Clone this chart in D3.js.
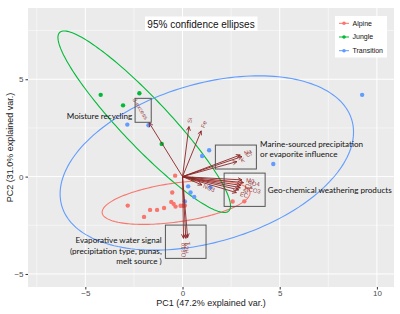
<!DOCTYPE html>
<html>
<head>
<meta charset="utf-8">
<script src="https://cdn.jsdelivr.net/npm/d3@7"></script>
<style>
  body { margin: 0; background: #fff; }
  text { font-family: "Liberation Sans", Arial, sans-serif; }
</style>
</head>
<body>
<div id="chart"></div>
<script>
// Data
const groups = ["Alpine", "Jungle", "Transition"];
const groupColors = ["#F8766D", "#00BA38", "#619CFF"];

const alpinePC1 = [-0.38, -0.53, -0.58, -0.46, -0.36, -0.1, 0.03, 0.12, -0.95, -1.31, -1.67, -1.98, -2.82, 2.58, 3.18];
const alpinePC2 = [0.05, -0.82, -1.3, -1.4, -1.54, -1.5, -1.5, -1.49, -1.61, -1.71, -1.71, -2.07, -1.49, -1.28, -1.27];
const junglePC1 = [-4.21, -2.22, -3.06, -1.07, 0.52];
const junglePC2 = [4.2, 4.28, 3.66, 1.68, -0.12];
const transitionPC1 = [-2.84, -1.75, 1.37, 1.01, 4.67, 9.24, 0.29, 1.44, 0.41, 0.6, 0.12];
const transitionPC2 = [2.67, 2.64, 1.35, 1.06, 0.65, 4.2, -0.5, -0.55, -0.82, -1.04, -1.28];

// 95% ellipses: centre, semi-axes, rotation (deg)
const ellipseCenter = [[-0.33, -1.33], [-1.97, 2.82], [1.25, 0.7]];
const ellipseAxes = [[3.84, 1.0], [6.32, 1.22], [7.78, 4.06]];
const ellipseAngle = [8, -46.5, 16.5];

// loadings
const varNames = ["d-excess", "Si", "Fe", "Na", "Cl", "K", "Mg", "SO4", "Ca", "HCO3", "Sr", "EC", "NO3", "δ18O", "δ2H", "T"];
const varPC1 = [-1.72, 0.33, 0.96, 2.97, 3.06, 2.8, 3.06, 3.14, 3.0, 2.97, 2.89, 2.77, 1.0, 0.05, 0.17, 0.26];
const varPC2 = [2.77, 2.57, 2.35, 1.11, 1.03, 0.77, -0.17, -0.31, -0.45, -0.57, -0.68, -0.82, -0.43, -3.17, -3.17, -3.13];

const xMajor = [-5, 0, 5, 10];
const xMinor = [-7.5, -2.5, 2.5, 7.5];
const yMajor = [-5, 0, 5];
const yMinor = [-2.5, 2.5, 7.5];

// annotation boxes [x0, x1, y0, y1] in PC units
const boxes = [[-2.44, -1.61, 2.79, 4.02], [1.69, 3.8, 0.39, 1.62], [2.14, 4.25, -1.53, 0.18], [-0.88, 1.21, -4.2, -2.49]];
const notes = [
  { lines: ["Moisture recycling"], x: -2.59, y: 3.13, anchor: "end" },
  { lines: ["Marine-sourced precipitation", "or evaporite influence"], x: 3.99, y: 1.67, anchor: "start" },
  { lines: ["Geo-chemical weathering products"], x: 4.39, y: -0.69, anchor: "start" },
  { lines: ["Evaporative water signal", "(precipitation type, punas,", "melt source )"], x: -1.07, y: -3.29, anchor: "end" }
];

const width = 400, height = 314;
const margin = { top: 8, right: 6, bottom: 27, left: 28 };

const svg = d3.select("#chart").append("svg")
  .attr("width", width)
  .attr("height", height);

const x = d3.scaleLinear().domain([-7.95, 10.88]).range([margin.left, width - margin.right]);
const y = d3.scaleLinear().domain([-5.67, 8.66]).range([height - margin.bottom, margin.top]);

// panel
svg.append("rect")
  .attr("x", x.range()[0]).attr("y", y.range()[1])
  .attr("width", x.range()[1] - x.range()[0])
  .attr("height", y.range()[0] - y.range()[1])
  .attr("fill", "#EBEBEB");

svg.append("clipPath").attr("id", "clip").append("rect")
  .attr("x", x.range()[0]).attr("y", y.range()[1])
  .attr("width", x.range()[1] - x.range()[0])
  .attr("height", y.range()[0] - y.range()[1]);

// grid
svg.selectAll(".gx-minor").data(xMinor).enter().append("line")
  .attr("x1", d => x(d)).attr("x2", d => x(d))
  .attr("y1", y.range()[0]).attr("y2", y.range()[1])
  .attr("stroke", "#fff").attr("stroke-width", 0.5);
svg.selectAll(".gy-minor").data(yMinor).enter().append("line")
  .attr("y1", d => y(d)).attr("y2", d => y(d))
  .attr("x1", x.range()[0]).attr("x2", x.range()[1])
  .attr("stroke", "#fff").attr("stroke-width", 0.5);
svg.selectAll(".gx").data(xMajor).enter().append("line")
  .attr("x1", d => x(d)).attr("x2", d => x(d))
  .attr("y1", y.range()[0]).attr("y2", y.range()[1])
  .attr("stroke", "#fff").attr("stroke-width", 1);
svg.selectAll(".gy").data(yMajor).enter().append("line")
  .attr("y1", d => y(d)).attr("y2", d => y(d))
  .attr("x1", x.range()[0]).attr("x2", x.range()[1])
  .attr("stroke", "#fff").attr("stroke-width", 1);

// axes
const xAxis = svg.append("g")
  .attr("transform", `translate(0,${y.range()[0]})`)
  .call(d3.axisBottom(x).tickValues(xMajor).tickSize(2.5).tickPadding(1).tickFormat(d3.format("d")));
const yAxis = svg.append("g")
  .attr("transform", `translate(${x.range()[0]},0)`)
  .call(d3.axisLeft(y).tickValues(yMajor).tickSize(2.5).tickPadding(2).tickFormat(d3.format("d")));
[xAxis, yAxis].forEach(a => {
  a.select(".domain").remove();
  a.selectAll(".tick line").attr("stroke", "#333");
  a.selectAll(".tick text").attr("fill", "#4D4D4D").style("font-size", "8px");
});

svg.append("text")
  .attr("x", (x.range()[0] + x.range()[1]) / 2).attr("y", 305.5)
  .attr("text-anchor", "middle").style("font-size", "9px").attr("fill", "#222")
  .text("PC1 (47.2% explained var.)");
svg.append("text")
  .attr("transform", `translate(12.5,${(y.range()[0] + y.range()[1]) / 2}) rotate(-90)`)
  .attr("text-anchor", "middle").style("font-size", "9px").attr("fill", "#222")
  .text("PC2 (31.0% explained var.)");

const plot = svg.append("g").attr("clip-path", "url(#clip)");

// ellipses
groups.forEach((g, i) => {
  const [cx, cy] = ellipseCenter[i];
  const [a, b] = ellipseAxes[i];
  const th = ellipseAngle[i] * Math.PI / 180;
  const pts = d3.range(0, 360, 2).map(t => {
    const r = t * Math.PI / 180;
    const ex = a * Math.cos(r), ey = b * Math.sin(r);
    return [cx + ex * Math.cos(th) - ey * Math.sin(th), cy + ex * Math.sin(th) + ey * Math.cos(th)];
  });
  plot.append("path")
    .attr("d", d3.line().x(d => x(d[0])).y(d => y(d[1])).curve(d3.curveLinearClosed)(pts))
    .attr("fill", "none").attr("stroke", groupColors[i]).attr("stroke-width", 1.1);
});

// points
const series = [[alpinePC1, alpinePC2], [junglePC1, junglePC2], [transitionPC1, transitionPC2]];
series.forEach(([xs, ys], i) => {
  plot.selectAll(".pt" + i).data(xs).enter().append("circle")
    .attr("cx", d => x(d)).attr("cy", (d, j) => y(ys[j]))
    .attr("r", 2.2).attr("fill", groupColors[i]);
});

// loading arrows
const arrowCol = "#8B2525";
varNames.forEach((name, i) => {
  const ex = x(varPC1[i]), ey = y(varPC2[i]);
  const ox = x(0), oy = y(0);
  const ang = Math.atan2(ey - oy, ex - ox);
  plot.append("line")
    .attr("x1", ox).attr("y1", oy).attr("x2", ex).attr("y2", ey)
    .attr("stroke", arrowCol).attr("stroke-width", 0.9);
  const h = 4.5, spread = 0.45;
  [ang + Math.PI - spread, ang + Math.PI + spread].forEach(a2 => {
    plot.append("line")
      .attr("x1", ex).attr("y1", ey)
      .attr("x2", ex + h * Math.cos(a2)).attr("y2", ey + h * Math.sin(a2))
      .attr("stroke", arrowCol).attr("stroke-width", 0.9);
  });
  const lx = x(varPC1[i] * 1.07), ly = y(varPC2[i] * 1.07);
  const rot = -Math.atan(varPC2[i] / varPC1[i]) * 180 / Math.PI;
  plot.append("text")
    .attr("transform", `translate(${lx},${ly}) rotate(${rot})`)
    .attr("text-anchor", varPC1[i] >= 0 ? "start" : "end")
    .attr("dy", "0.35em")
    .attr("fill", arrowCol).attr("fill-opacity", 0.85)
    .style("font-size", "6px")
    .text(name);
});

// annotation boxes
svg.selectAll(".box").data(boxes).enter().append("rect")
  .attr("x", d => x(d[0])).attr("y", d => y(d[3]))
  .attr("width", d => x(d[1]) - x(d[0])).attr("height", d => y(d[2]) - y(d[3]))
  .attr("fill", "none").attr("stroke", "#555").attr("stroke-width", 1);

notes.forEach(n => {
  n.lines.forEach((l, k) => {
    svg.append("text")
      .attr("x", x(n.x)).attr("y", y(n.y) + k * 10.4)
      .attr("dy", "0.35em")
      .attr("text-anchor", n.anchor)
      .style("font-family", "Lato, sans-serif").style("font-size", "8.1px")
      .attr("fill", "#111")
      .text(l);
  });
});

// title
svg.append("rect").attr("x", 145).attr("y", 16.5).attr("width", 112.5).attr("height", 14.5).attr("fill", "#fff");
svg.append("text").attr("x", 201).attr("y", 24).attr("dy", "0.35em")
  .attr("text-anchor", "middle").style("font-size", "10px").attr("fill", "#111")
  .text("95% confidence ellipses");

// legend
const legend = svg.append("g");
legend.append("rect").attr("x", 335).attr("y", 16).attr("width", 52).attr("height", 41.5).attr("fill", "#fff");
groups.forEach((g, i) => {
  const ly = 23.3 + i * 13.7;
  legend.append("line").attr("x1", 339).attr("x2", 349).attr("y1", ly).attr("y2", ly)
    .attr("stroke", groupColors[i]).attr("stroke-width", 1);
  legend.append("circle").attr("cx", 344).attr("cy", ly).attr("r", 1.8).attr("fill", groupColors[i]);
  legend.append("text").attr("x", 352.5).attr("y", ly).attr("dy", "0.35em")
    .style("font-size", "7px").attr("fill", "#111").text(g);
});
</script>
</body>
</html>
